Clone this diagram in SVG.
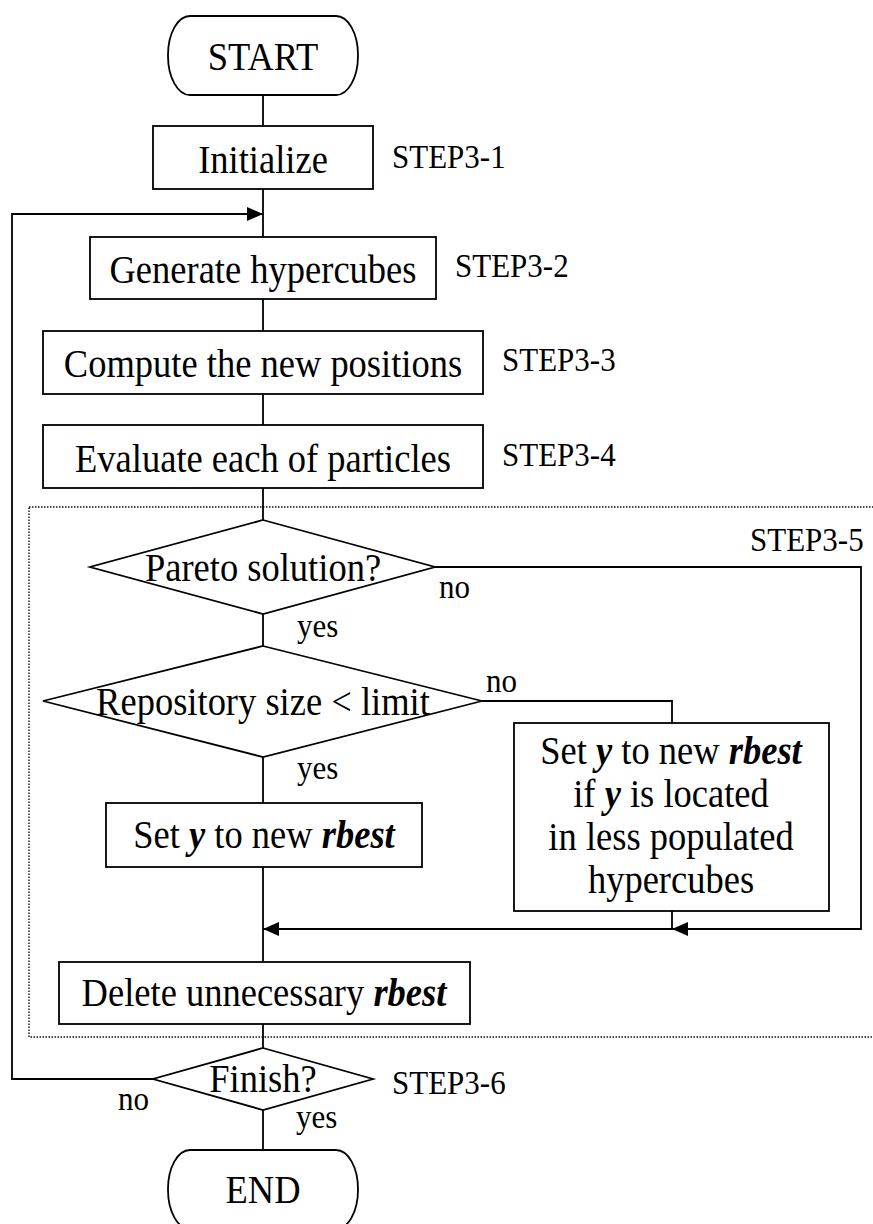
<svg xmlns="http://www.w3.org/2000/svg" width="873" height="1224" viewBox="0 0 873 1224">
<style>
.s{fill:#fff;stroke:#000;stroke-width:1.8}
.c{fill:none;stroke:#000;stroke-width:1.8}
.a{fill:#000}
.t{font-family:"Liberation Serif","Times New Roman",serif;font-size:36.5px;text-anchor:middle;fill:#000}
.l{font-family:"Liberation Serif","Times New Roman",serif;font-size:31px;fill:#000}
.bi{font-weight:bold;font-style:italic}
</style>
<rect x="0" y="0" width="873" height="1224" fill="#fff"/>
<rect id="step5-frame" x="29" y="507" width="860" height="530" fill="none" stroke="#111" stroke-width="1.4" stroke-dasharray="1.5 1.5"/>
<g id="connectors">
<path class="c" d="M263 95V126M263 189V237M263 299V331M263 394V425M263 488V520M263 614V646M263 757V803M263 867V962M263 1024V1048M263 1110V1150"/>
<path class="c" d="M153 1079H12V214H263"/>
<path class="c" d="M435 567H861V929H263"/>
<path class="c" d="M482 701H672V723"/>
<path class="c" d="M672 911V929"/>
<polygon class="a" points="263,214 247,207 247,221"/>
<polygon class="a" points="263,929 279,922 279,936"/>
<polygon class="a" points="672,929 688,922 688,936"/>
</g>
<g id="start"><rect class="s" x="168" y="16" width="190" height="79" rx="22" ry="39"/><text class="t" transform="matrix(1 0 0 1.1 263 70)">START</text></g>
<g id="init"><rect class="s" x="153" y="126" width="220" height="63"/><text class="t" transform="matrix(1 0 0 1.1 263 173)">Initialize</text><text class="l" transform="matrix(1 0 0 1.1 392 168)">STEP3-1</text></g>
<g id="gen"><rect class="s" x="90" y="237" width="346" height="62"/><text class="t" transform="matrix(1 0 0 1.1 263 283)">Generate hypercubes</text><text class="l" transform="matrix(1 0 0 1.1 455 277)">STEP3-2</text></g>
<g id="compute"><rect class="s" x="43" y="331" width="440" height="63"/><text class="t" transform="matrix(1 0 0 1.1 263 377)">Compute the new positions</text><text class="l" transform="matrix(1 0 0 1.1 502 371)">STEP3-3</text></g>
<g id="evaluate"><rect class="s" x="43" y="425" width="440" height="63"/><text class="t" transform="matrix(1 0 0 1.1 263 472)">Evaluate each of particles</text><text class="l" transform="matrix(1 0 0 1.1 502 466)">STEP3-4</text></g>
<g id="pareto"><polygon class="s" points="263,520 435,567 263,614 90,567"/><text class="t" transform="matrix(1 0 0 1.1 263 581)">Pareto solution?</text><text class="l" transform="matrix(1 0 0 1.1 750 551)">STEP3-5</text><text class="l" transform="matrix(1 0 0 1.1 439 598)">no</text><text class="l" transform="matrix(1 0 0 1.1 297 637)">yes</text></g>
<g id="repo"><polygon class="s" points="263,646 482,701 263,757 43,701"/><text class="t" transform="matrix(1 0 0 1.1 263 715)">Repository size &lt; limit</text><text class="l" transform="matrix(1 0 0 1.1 486 692)">no</text><text class="l" transform="matrix(1 0 0 1.1 297 779)">yes</text></g>
<g id="sety"><rect class="s" x="106" y="803" width="316" height="64"/><text class="t" transform="matrix(1 0 0 1.1 264 848)">Set <tspan class="bi">y</tspan> to new <tspan class="bi">rbest</tspan></text></g>
<g id="setycond"><rect class="s" x="514" y="723" width="315" height="188"/>
<text class="t" transform="matrix(1 0 0 1.1 671 764)">Set <tspan class="bi">y</tspan> to new <tspan class="bi">rbest</tspan></text>
<text class="t" transform="matrix(1 0 0 1.1 671 807)">if <tspan class="bi">y</tspan> is located</text>
<text class="t" transform="matrix(1 0 0 1.1 671 850)">in less populated</text>
<text class="t" transform="matrix(1 0 0 1.1 671 893)">hypercubes</text></g>
<g id="delete"><rect class="s" x="59" y="962" width="411" height="62"/><text class="t" transform="matrix(1 0 0 1.1 264 1006)">Delete unnecessary <tspan class="bi">rbest</tspan></text></g>
<g id="finish"><polygon class="s" points="263,1048 373,1079 263,1110 153,1079"/><text class="t" transform="matrix(1 0 0 1.1 263 1092)">Finish?</text><text class="l" transform="matrix(1 0 0 1.1 392 1094)">STEP3-6</text><text class="l" transform="matrix(1 0 0 1.1 118 1110)">no</text><text class="l" transform="matrix(1 0 0 1.1 296 1128)">yes</text></g>
<g id="end"><rect class="s" x="168" y="1150" width="190" height="79" rx="22" ry="39"/><text class="t" transform="matrix(1 0 0 1.1 263 1203)">END</text></g>
</svg>
